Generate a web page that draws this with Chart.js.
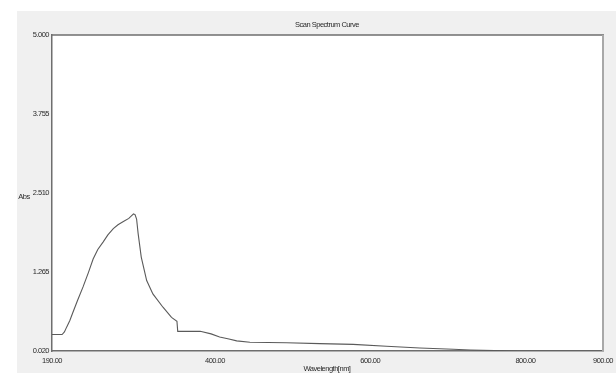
<!DOCTYPE html>
<html>
<head>
<meta charset="utf-8">
<script src="https://cdn.jsdelivr.net/npm/chart.js@4/dist/chart.umd.min.js"></script>
<style>
html,body{margin:0;padding:0;background:#ffffff;}
#wrap{width:616px;height:373px;position:relative;}
canvas{display:block;}
</style>
</head>
<body>
<div id="wrap"><canvas id="c" width="616" height="373"></canvas></div>
<script>
const titleText = "Scan Spectrum Curve";
const xAxisLabel = "Wavelength[nm]";
const yAxisLabel = "Abs";
const xTickValues = [190, 400, 600, 800, 900];
const yTickValues = [0.020, 1.265, 2.510, 3.755, 5.000];
const wavelengths = [190, 203, 206, 209, 213, 217, 223, 230, 237, 243, 249, 256, 262, 269, 275, 282, 289, 295, 297, 299, 301, 305, 312, 320, 333, 344, 351, 352, 381, 395, 406, 418, 428, 445, 492, 535, 578, 621, 664, 707, 729, 760, 790, 820, 860, 900];
const absorbance  = [0.28, 0.28, 0.32, 0.40, 0.50, 0.63, 0.82, 1.03, 1.26, 1.47, 1.62, 1.74, 1.85, 1.95, 2.01, 2.06, 2.11, 2.18, 2.17, 2.10, 1.87, 1.50, 1.13, 0.92, 0.71, 0.55, 0.49, 0.33, 0.33, 0.29, 0.24, 0.21, 0.18, 0.157, 0.15, 0.137, 0.125, 0.094, 0.067, 0.047, 0.036, 0.026, 0.02, 0.02, 0.02, 0.02];

const FONT = "'Liberation Sans', Arial, sans-serif";
const SPACING = '-0.5px';

const points = wavelengths.map((w, i) => ({x: w, y: absorbance[i]}));

const frame = {
  id: 'frame',
  beforeDraw(chart) {
    const ctx = chart.ctx;
    ctx.save();
    ctx.fillStyle = '#ffffff';
    ctx.fillRect(0, 0, chart.width, chart.height);
    ctx.fillStyle = '#f0f0f0';
    ctx.fillRect(17, 11, chart.width - 17, chart.height - 11);
    const a = chart.chartArea;
    ctx.fillStyle = '#ffffff';
    ctx.fillRect(a.left, a.top, a.right - a.left, a.bottom - a.top);
    ctx.restore();
    ctx.letterSpacing = SPACING;
  },
  afterDraw(chart) {
    const ctx = chart.ctx;
    const a = chart.chartArea;
    ctx.save();
    ctx.strokeStyle = '#6e6e6e';
    ctx.lineWidth = 1.5;
    ctx.beginPath();
    ctx.moveTo(a.left - 1, a.top);
    ctx.lineTo(a.right + 1, a.top);
    ctx.stroke();
    ctx.strokeStyle = '#a8a8a8';
    ctx.lineWidth = 2;
    ctx.beginPath();
    ctx.moveTo(a.right, a.top);
    ctx.lineTo(a.right, a.bottom);
    ctx.stroke();
    ctx.fillStyle = '#2a2a2a';
    ctx.font = "7.5px " + FONT;
    ctx.letterSpacing = SPACING;
    ctx.textAlign = 'center';
    ctx.textBaseline = 'middle';
    ctx.fillText(titleText, 327, 25);
    ctx.fillText(yAxisLabel, 24, 197);
    ctx.fillText(xAxisLabel, 327, 369);
    ctx.restore();
  }
};

new Chart(document.getElementById('c'), {
  type: 'line',
  data: {
    datasets: [{
      data: points,
      borderColor: '#5a5a5a',
      borderWidth: 1.1,
      pointRadius: 0,
      tension: 0,
      fill: false
    }]
  },
  options: {
    responsive: false,
    animation: false,
    devicePixelRatio: 1,
    layout: {padding: {left: 0, top: 35, right: 13, bottom: 0}},
    plugins: {legend: {display: false}, tooltip: {enabled: false}, title: {display: false}},
    scales: {
      x: {
        type: 'linear',
        min: 190, max: 900,
        grid: {display: false, drawTicks: false},
        border: {display: true, color: '#6e6e6e', width: 1.5},
        afterBuildTicks(scale) { scale.ticks = xTickValues.map(v => ({value: v})); },
        afterFit(scale) { scale.height = 22; scale.paddingLeft = 0; scale.paddingRight = 0; },
        ticks: {
          maxRotation: 0, autoSkip: false, padding: 5,
          color: '#2a2a2a', font: {family: FONT, size: 7.5},
          callback: v => Number(v).toFixed(2)
        }
      },
      y: {
        type: 'linear',
        min: 0.02, max: 5.0,
        grid: {display: false, drawTicks: false},
        border: {display: true, color: '#6e6e6e', width: 1.5},
        afterBuildTicks(scale) { scale.ticks = yTickValues.map(v => ({value: v})); },
        afterFit(scale) { scale.width = 52; scale.paddingTop = 0; scale.paddingBottom = 0; },
        ticks: {
          autoSkip: false, padding: 3,
          color: '#2a2a2a', font: {family: FONT, size: 7.5},
          callback: v => Number(v).toFixed(3)
        }
      }
    }
  },
  plugins: [frame]
});
</script>
</body>
</html>
